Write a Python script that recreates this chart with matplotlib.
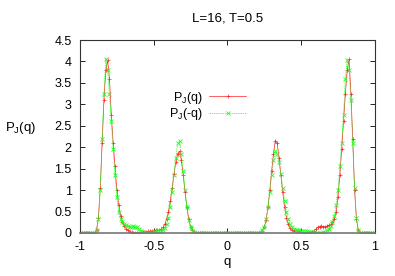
import numpy as np
import matplotlib
matplotlib.use('Agg')
import matplotlib.pyplot as plt

plt.rcParams['font.family'] = ['Liberation Sans', 'DejaVu Sans']
plt.rcParams['mathtext.fontset'] = 'custom'
plt.rcParams['mathtext.rm'] = 'Liberation Sans'
plt.rcParams['mathtext.it'] = 'Liberation Sans:italic'

# q grid of the histogram (bin width 0.0125)
q = np.linspace(-1.0, 1.0, 161)

# P_J(q), from q = -1 to q = 1
pj = [
    0.0, 0.0, 0.0, 0.0, 0.0, 0.0, 0.0, 0.0,             # -1.0 .. -0.9125
    0.01, 0.08, 0.35, 1.05, 2.1, 3.1, 3.8, 4.03,        # -0.9 .. -0.8125
    3.6, 2.75, 2.1, 1.55, 1.0, 0.65, 0.4, 0.25,         # -0.8 .. -0.7125
    0.17, 0.1, 0.06, 0.03, 0.02, 0.01, 0.01, 0.01,      # -0.7 .. -0.6125
    0.01, 0.02, 0.02, 0.03, 0.03, 0.04, 0.04, 0.05,     # -0.6 .. -0.5125
    0.05, 0.06, 0.06, 0.07, 0.09, 0.13, 0.2, 0.32,      # -0.5 .. -0.4125
    0.5, 0.75, 1.05, 1.38, 1.65, 1.85, 1.9, 1.7,        # -0.4 .. -0.3125
    1.35, 0.95, 0.6, 0.33, 0.15, 0.06, 0.02, 0.01,      # -0.3 .. -0.2125
    0.0, 0.0, 0.0, 0.0, 0.0, 0.0, 0.0, 0.0,             # -0.2 .. -0.1125
    0.0, 0.0, 0.0, 0.0, 0.0, 0.0, 0.0, 0.0,             # -0.1 .. -0.0125
    0.0, 0.0, 0.0, 0.0, 0.0, 0.0, 0.0, 0.0,             # 0.0 .. 0.0875
    0.0, 0.0, 0.0, 0.0, 0.0, 0.0, 0.0, 0.0,             # 0.1 .. 0.1875
    0.0, 0.01, 0.02, 0.05, 0.13, 0.3, 0.6, 1.0,         # 0.2 .. 0.2875
    1.45, 1.85, 2.15, 2.1, 1.75, 1.35, 0.95, 0.6,       # 0.3 .. 0.3875
    0.36, 0.2, 0.11, 0.07, 0.05, 0.05, 0.04, 0.03,      # 0.4 .. 0.4875
    0.02, 0.01, 0.01, 0.0, 0.01, 0.01, 0.02, 0.05,      # 0.5 .. 0.5875
    0.09, 0.13, 0.15, 0.16, 0.15, 0.15, 0.16, 0.18,     # 0.6 .. 0.6875
    0.2, 0.25, 0.33, 0.5, 0.85, 1.35, 1.95, 2.6,        # 0.7 .. 0.7875
    3.25, 3.8, 4.05, 3.25, 2.2, 1.0, 0.33, 0.06,        # 0.8 .. 0.8875
    0.01, 0.0, 0.0, 0.0, 0.0, 0.0, 0.0, 0.0,            # 0.9 .. 0.9875
    0.0,                                                # 1.0
]
pj = np.array(pj)
# P_J(-q): the same histogram read backwards
pj_minus = pj[::-1]

xticks = [-1, -0.5, 0, 0.5, 1]
xticklabels = ['-1', '-0.5', '0', '0.5', '1']
yticks = [0, 0.5, 1, 1.5, 2, 2.5, 3, 3.5, 4, 4.5]
yticklabels = ['0', '0.5', '1', '1.5', '2', '2.5', '3', '3.5', '4', '4.5']

fig = plt.figure(figsize=(3.95, 2.76), dpi=100)
ax = fig.add_axes([0.2025, 0.156, 0.7465, 0.699])

ax.plot(q, pj, color='#ff2020', lw=0.5, marker='+', ms=3.2, mew=0.5,
        label='P$_{\\rm J}$(q)')
ax.plot(q, pj_minus, color='#20ff20', lw=0.5, ls=(0, (2, 1.2)), marker='x',
        ms=2.8, mew=0.6, label='P$_{\\rm J}$(-q)')

ax.set_xlim(-1, 1)
ax.set_ylim(0, 4.5)
ax.set_xticks(xticks)
ax.set_xticklabels(xticklabels)
ax.set_yticks(yticks)
ax.set_yticklabels(yticklabels)
ax.tick_params(direction='in', top=True, right=True, length=3.5, width=0.6,
               labelsize=9, pad=6)
for sk in ax.spines.values():
    sk.set_linewidth(0.8)
    sk.set_color('#333333')
ax.spines['bottom'].set_color('#777777')
ax.spines['bottom'].set_linewidth(1.2)

ax.set_title('L=16, T=0.5', fontsize=9.5, pad=13)
ax.set_xlabel('q', fontsize=9.5, labelpad=2)
ax.set_ylabel('P$_{\\rm J}$(q)', fontsize=9.5, rotation=0, labelpad=14)
ax.yaxis.set_label_coords(-0.2, 0.5)

ax.legend(loc='upper left', bbox_to_anchor=(0.28, 0.775), frameon=False,
          markerfirst=False, fontsize=9, handlelength=3.0, handletextpad=0.5,
          labelspacing=0.05, borderpad=0)

fig.savefig('out.png', dpi=100)
